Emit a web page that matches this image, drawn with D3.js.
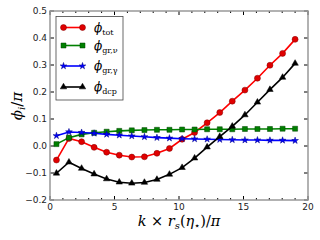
<!DOCTYPE html>
<html><head><meta charset="utf-8">
<script src="https://cdn.jsdelivr.net/npm/d3@7"></script>
<style>body{margin:0;background:#fff}svg{display:block}</style>
</head><body><svg id="c" width="320" height="240"></svg>
<script>
const kValues = [0.5,1.47,2.45,3.42,4.39,5.37,6.34,7.32,8.29,9.26,10.24,11.21,12.18,13.16,14.13,15.11,16.08,17.05,18.03,19.0];
const phiTot = [-0.052,0.028,0.016,-0.005,-0.023,-0.034,-0.041,-0.040,-0.027,-0.009,0.025,0.050,0.086,0.124,0.166,0.207,0.251,0.299,0.343,0.395];
const phiGrNu = [0.007,0.031,0.043,0.049,0.053,0.056,0.058,0.059,0.060,0.060,0.061,0.061,0.062,0.062,0.062,0.063,0.063,0.063,0.064,0.064];
const phiGrGamma = [0.038,0.052,0.050,0.047,0.043,0.040,0.037,0.034,0.031,0.029,0.027,0.026,0.025,0.024,0.023,0.022,0.022,0.021,0.021,0.020];
const phiDcp = [-0.101,-0.060,-0.083,-0.104,-0.122,-0.134,-0.138,-0.135,-0.124,-0.105,-0.080,-0.045,-0.004,0.035,0.073,0.115,0.162,0.209,0.254,0.306];
const xTicks = [0,5,10,15,20];
const yTicks = [-0.2,-0.1,0.0,0.1,0.2,0.3,0.4,0.5];
const seriesNames = ["tot","gr,ν","gr,γ","dcp"];

const svg = d3.select("#c");
const x = d3.scaleLinear().domain([0,20]).range([50,308]);
const y = d3.scaleLinear().domain([-0.2,0.5]).range([200,11]);

const series = [
  {name: seriesNames[0], data: phiTot, color: "#ff0000", fill: "#e00000", edge: "#800000", sym: d3.symbolCircle, size: 28},
  {name: seriesNames[1], data: phiGrNu, color: "#008000", fill: "#008000", edge: "#004000", sym: d3.symbolSquare, size: 25},
  {name: seriesNames[2], data: phiGrGamma, color: "#0000ff", fill: "#0000ff", edge: "#000080", sym: d3.symbolStar, size: 14},
  {name: seriesNames[3], data: phiDcp, color: "#000000", fill: "#000000", edge: "#000000", sym: d3.symbolTriangle, size: 18}
];

// ticks
const tk = svg.append("g").attr("stroke","#000").attr("stroke-width",1);
for (let v = 0; v <= 20; v++) {
  const len = v % 5 === 0 ? 4 : 2;
  tk.append("line").attr("x1",x(v)).attr("x2",x(v)).attr("y1",200).attr("y2",200-len);
  tk.append("line").attr("x1",x(v)).attr("x2",x(v)).attr("y1",11).attr("y2",11+len);
}
yTicks.forEach(v => {
  tk.append("line").attr("x1",50).attr("x2",54).attr("y1",y(v)).attr("y2",y(v));
  tk.append("line").attr("x1",308).attr("x2",304).attr("y1",y(v)).attr("y2",y(v));
});

// frame
svg.append("rect").attr("x",50).attr("y",11).attr("width",258).attr("height",189)
  .attr("fill","none").attr("stroke","#999").attr("stroke-width",1.5);

// tick labels
const tl = svg.append("g").attr("font-family","DejaVu Sans").attr("font-size",9).attr("fill","#222");
xTicks.forEach(v => tl.append("text").attr("x",x(v)).attr("y",209.5).attr("text-anchor","middle").text(v));
yTicks.forEach(v => tl.append("text").attr("x",47).attr("y",y(v)+3).attr("text-anchor","end")
  .text((v<0?"\u2212":"") + Math.abs(v).toFixed(1)));

// lines & markers
const line = d3.line().x((d,i)=>x(kValues[i])).y(d=>y(d));
series.forEach(s => {
  svg.append("path").attr("d", line(s.data)).attr("fill","none").attr("stroke",s.color).attr("stroke-width",1.6);
  svg.append("g").selectAll("path").data(s.data).join("path")
    .attr("transform",(d,i)=>`translate(${x(kValues[i])},${y(d)})`)
    .attr("d", d3.symbol().type(s.sym).size(s.size))
    .attr("fill", s.fill).attr("stroke", s.edge).attr("stroke-width",0.5);
});

// legend
svg.append("rect").attr("x",56).attr("y",16.5).attr("width",67).attr("height",83.5)
  .attr("fill","#fff").attr("stroke","#444").attr("stroke-width",0.8);
const ly = [27.5,45.5,66,87];
series.forEach((s,i) => {
  const g = svg.append("g");
  g.append("line").attr("x1",63.5).attr("x2",82.5).attr("y1",ly[i]).attr("y2",ly[i]).attr("stroke",s.color).attr("stroke-width",1.6);
  [63.5,82.5].forEach(px => g.append("path").attr("transform",`translate(${px},${ly[i]})`)
    .attr("d", d3.symbol().type(s.sym).size(s.size)).attr("fill",s.fill).attr("stroke",s.edge).attr("stroke-width",0.5));
  const t = g.append("text").attr("x",94).attr("y",ly[i]+4).attr("font-family","DejaVu Serif").attr("font-size",12).attr("fill","#000");
  t.append("tspan").attr("font-style","italic").text("\u03D5");
  t.append("tspan").attr("font-size",8).attr("dy",3).text(s.name);
});

// axis labels
const xl = svg.append("text").attr("x",179).attr("y",226).attr("text-anchor","middle")
  .attr("font-family","DejaVu Serif").attr("font-size",14.5).attr("fill","#000");
xl.append("tspan").attr("font-style","italic").text("k");
xl.append("tspan").text(" \u00D7 ");
xl.append("tspan").attr("font-style","italic").text("r");
xl.append("tspan").attr("font-style","italic").attr("font-size",10).attr("dy",3).text("s");
xl.append("tspan").attr("dy",-3).text("(");
xl.append("tspan").attr("font-style","italic").text("\u03B7");
xl.append("tspan").attr("font-size",10).attr("dy",3).text("\u22C6");
xl.append("tspan").attr("dy",-3).text(")/");
xl.append("tspan").attr("font-style","italic").text("\u03C0");

const yl = svg.append("text").attr("transform","translate(22,106) rotate(-90)").attr("text-anchor","middle")
  .attr("font-family","DejaVu Serif").attr("font-size",15).attr("fill","#000");
yl.append("tspan").attr("font-style","italic").text("\u03D5");
yl.append("tspan").attr("font-style","italic").attr("font-size",10).attr("dy",3).text("i");
yl.append("tspan").attr("dy",-3).text("/");
yl.append("tspan").attr("font-style","italic").text("\u03C0");
</script></body></html>
